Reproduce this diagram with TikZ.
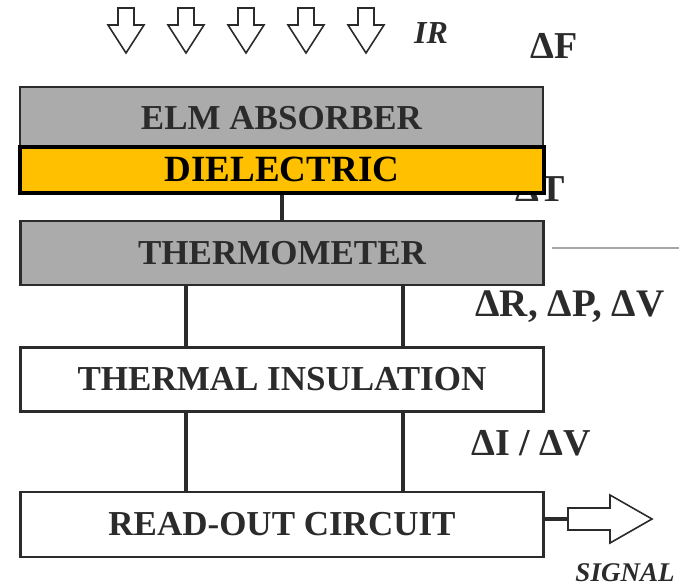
\documentclass[tikz,border=0pt]{standalone}
\usepackage{fontspec}
\setmainfont{Liberation Serif}
\usepackage{xcolor}
\usetikzlibrary{positioning}
\definecolor{grisbox}{HTML}{ABABAB}
\definecolor{ambar}{HTML}{FFC000}
\definecolor{tinta}{HTML}{2B2B2B}

\begin{document}
\begin{tikzpicture}[x=1pt, y=-1pt, line join=miter,
      b/.style={draw=tinta, line width=2.5pt, minimum width=523pt, inner sep=0pt,
                font=\fontsize{35}{40}\selectfont\bfseries, text=tinta},
      lbl/.style={font=\fontsize{38}{42}\selectfont\bfseries, text=tinta, inner sep=0pt},
      conn/.style={draw=tinta, line width=4pt},
      hueco/.style={draw=tinta, line width=1.6pt, fill=white}]
    \useasboundingbox (0,0) rectangle (679,587);
    % incoming radiation
    \foreach \x in {126,186,...,366}
      \draw[hueco] (\x-8,8) -- (\x+8,8) -- (\x+8,25) -- (\x+18,25) -- (\x,53)
                   -- (\x-18,25) -- (\x-8,25) -- cycle;
    \node[lbl, font=\fontsize{32}{36}\selectfont\bfseries\itshape] (ir) at (431,33) {IR};
    \node[lbl] (dF) at (554,46) {ΔF};
    \node[lbl] (dT) at (540,189) {ΔT};
    % stack of layers
    \node[b, fill=grisbox, minimum height=62pt] (abs) at (281.5,118) {ELM ABSORBER};
    \node[b, draw=black, line width=4pt, fill=ambar, text=black, minimum width=524pt,
          minimum height=46pt, font=\fontsize{37}{42}\selectfont\bfseries] (diel) at (282,169.5) {DIELECTRIC};
    \node[b, fill=grisbox, minimum height=64pt, below=25pt of diel] (thermo) {THERMOMETER};
    \node[b, fill=white, minimum height=64pt, below=60pt of thermo] (ins) {THERMAL INSULATION};
    \node[b, fill=white, minimum height=65pt, below=78pt of ins] (ro) {READ-OUT CIRCUIT};
    \draw[gray!70, line width=1.5pt] (552,248) -- (679,248);
    \node[lbl, font=\fontsize{39}{42}\selectfont\bfseries] (dR) at (570,307) {ΔR, ΔP, ΔV};
    \node[lbl] (dI) at (531,443) {ΔI / ΔV};
    % legs between layers
    \draw[conn] (diel.south) -- (thermo.north);
    \draw[conn] ([xshift=-96pt]thermo.south) -- ([xshift=-96pt]ins.north);
    \draw[conn] ([xshift=121pt]thermo.south) -- ([xshift=121pt]ins.north);
    \draw[conn] ([xshift=-96pt]ins.south) -- ([xshift=-96pt]ro.north);
    \draw[conn] ([xshift=121pt]ins.south) -- ([xshift=121pt]ro.north);
    % output
    \coordinate (sigcola) at (568,519);
    \draw[conn] (sigcola -| ro.east) -- (sigcola);
    \draw[hueco] (sigcola) ++(0,-11) -- ++(42,0) -- ++(0,-13) -- ++(42,24) -- ++(-42,24)
                 -- ++(0,-13) -- ++(-42,0) -- cycle;
    \node[lbl, font=\fontsize{27}{30}\selectfont\bfseries\itshape] (sig) at (625,573) {SIGNAL};
\end{tikzpicture}
\end{document}
